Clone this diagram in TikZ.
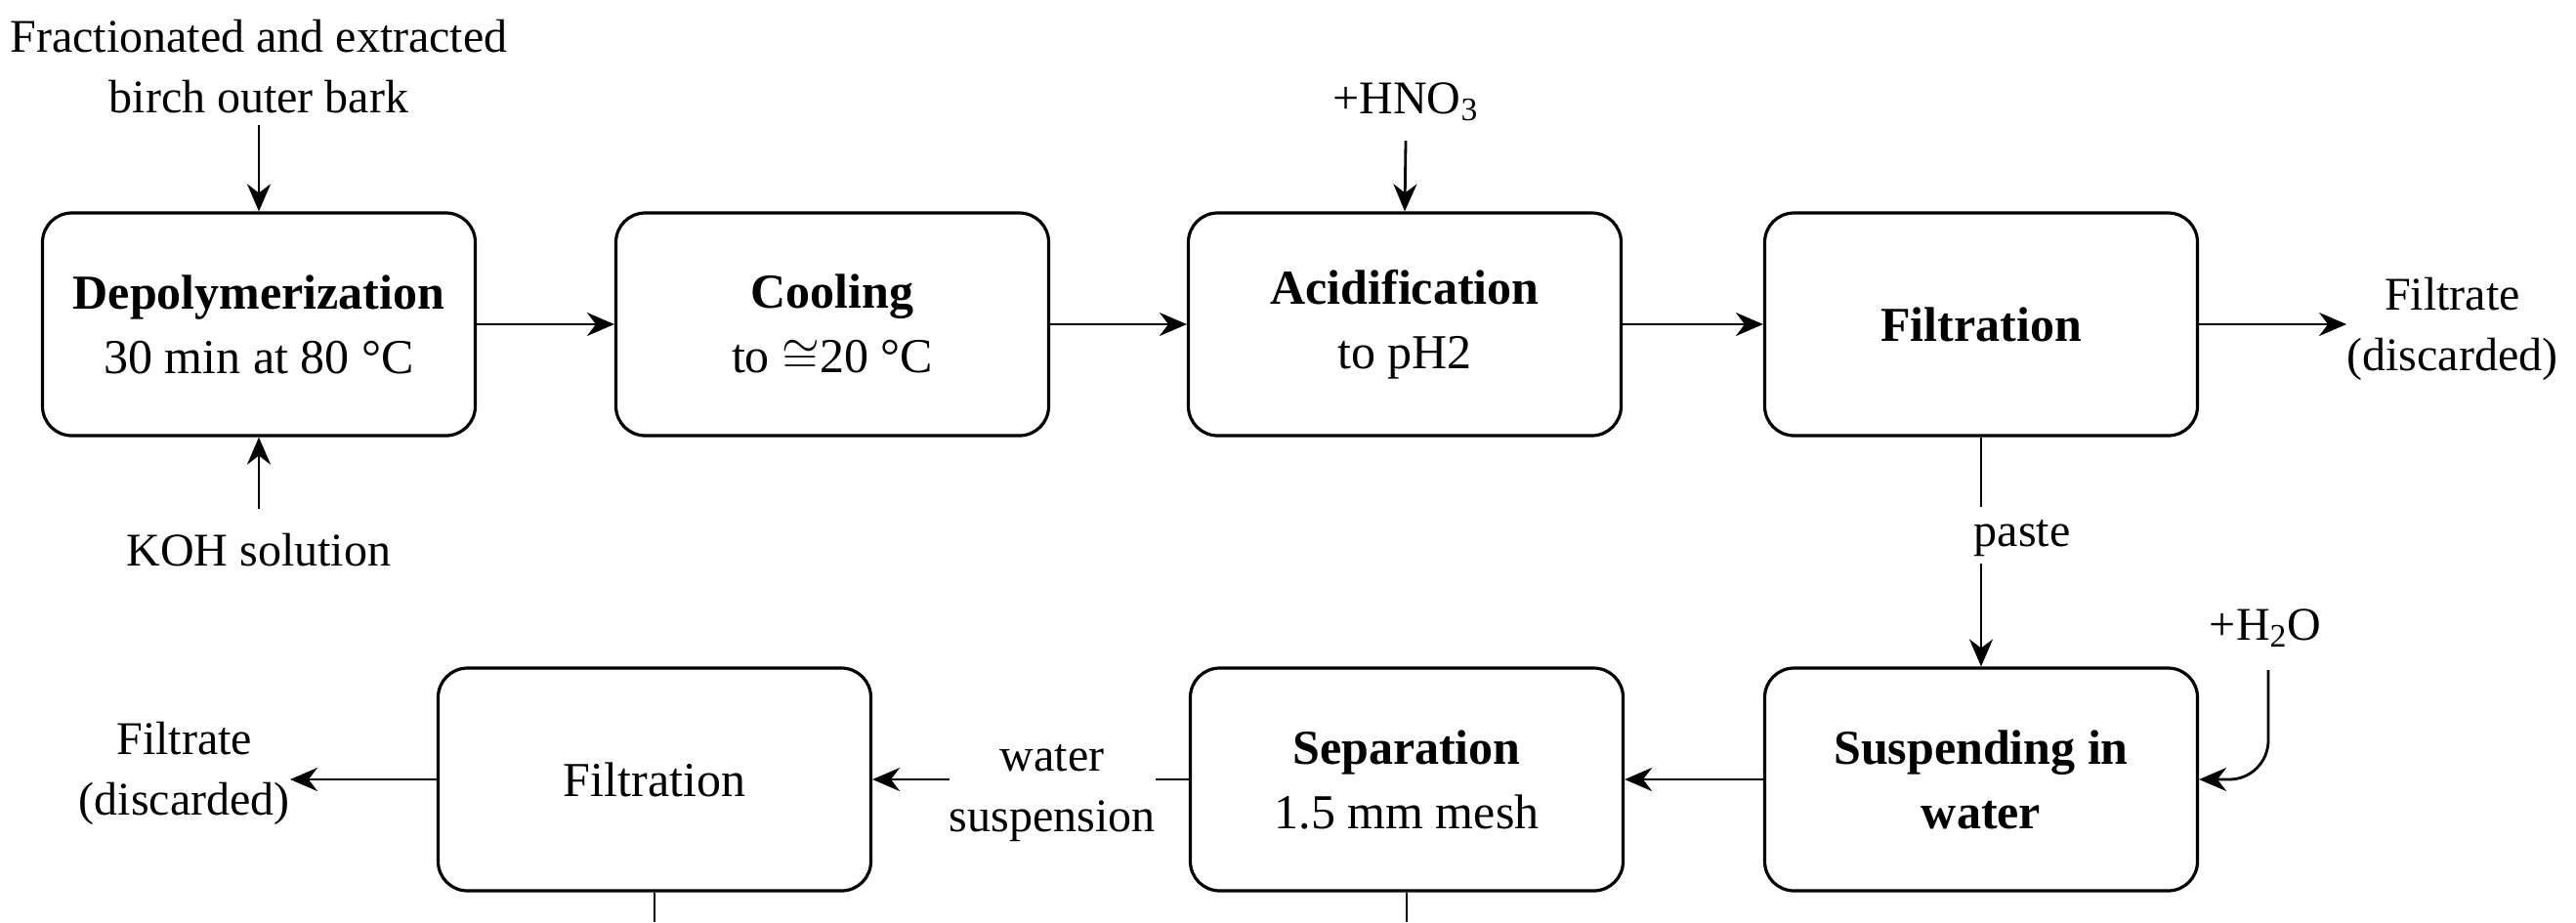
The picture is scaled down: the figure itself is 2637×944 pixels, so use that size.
\documentclass[tikz,border=0pt]{standalone}
\usepackage{fontspec}
\setmainfont{Liberation Serif}
\usetikzlibrary{arrows.meta}
\begin{document}
\begin{tikzpicture}[x=0.5pt,y=-0.5pt,
  box/.style={draw,line width=1.6pt,rounded corners=15pt,minimum width=221.5pt,minimum height=114pt,align=center,font=\fontsize{25}{33}\selectfont,inner sep=0pt},
  lbl/.style={align=center,font=\fontsize{24}{31}\selectfont,inner sep=0pt},
  arr/.style={line width=1.4pt,-{Stealth[length=14pt,width=12pt]}},
  ln/.style={line width=1.4pt}]
\useasboundingbox (0,0) rectangle (2637,944);
\node[box] (dep) at (265,332) {\textbf{Depolymerization}\\30 min at 80 °C};
\node[box] (cool) at (852,332) {\textbf{Cooling}\\to $\cong$20 °C};
\node[box] (acid) at (1438,332) {\textbf{Acidification}\\to pH2};
\node[box] (fil1) at (2028,332) {\textbf{Filtration}};
\node[box] (susp) at (2028,798) {\textbf{Suspending in}\\\textbf{water}};
\node[box] (sep) at (1440,798) {\textbf{Separation}\\1.5 mm mesh};
\node[box] (fil2) at (670,798) {Filtration};
\node[lbl] (bark) at (265,68) {Fractionated and extracted\\birch outer bark};
\node[lbl] (koh) at (265,563) {KOH solution};
\node[lbl] (hno) at (1439,104) {+HNO\textsubscript{3}};
\node[lbl,anchor=west] (ft1) at (2402,337) {Filtrate\\(discarded)};
\node[lbl] (paste) at (2070,551) {paste};
\node[lbl] (h2o) at (2319,643) {+H\textsubscript{2}O};
\node[lbl,anchor=east] (ws) at (1183,812) {water\\suspension};
\node[lbl,anchor=east] (ft2) at (297,792) {Filtrate\\(discarded)};
\coordinate (b1) at (265,128);
\coordinate (k1) at (265,521);
\coordinate (h1) at (1439,144);
\coordinate (p1) at (2028,519);
\coordinate (p2) at (2028,577);
\coordinate (w1) at (2322,686);
\coordinate (w2) at (2322,798);
\coordinate (ws1) at (972,798);
\coordinate (s1) at (670,944);
\coordinate (s2) at (1440,944);
\draw[arr] (b1) -- (dep.north);
\draw[arr] (k1) -- (dep.south);
\draw[arr] (h1) -- (acid.north);
\draw[arr] (dep) -- (cool);
\draw[arr] (cool) -- (acid);
\draw[arr] (acid) -- (fil1);
\draw[arr] (fil1.east) -- (ft1.west |- fil1.east);
\draw[ln] (fil1.south) -- (p1);
\draw[arr] (p2) -- (susp.north);
\draw[arr,rounded corners=20pt] (w1) -- (w2) -- (susp.east);
\draw[arr] (susp) -- (sep);
\draw[ln] (sep.west) -- (ws.east |- sep.west);
\draw[arr] (ws1) -- (fil2.east);
\draw[arr] (fil2.west) -- (ft2.east |- fil2.west);
\draw[ln] (fil2.south) -- (s1);
\draw[ln] (sep.south) -- (s2);
\end{tikzpicture}
\end{document}
